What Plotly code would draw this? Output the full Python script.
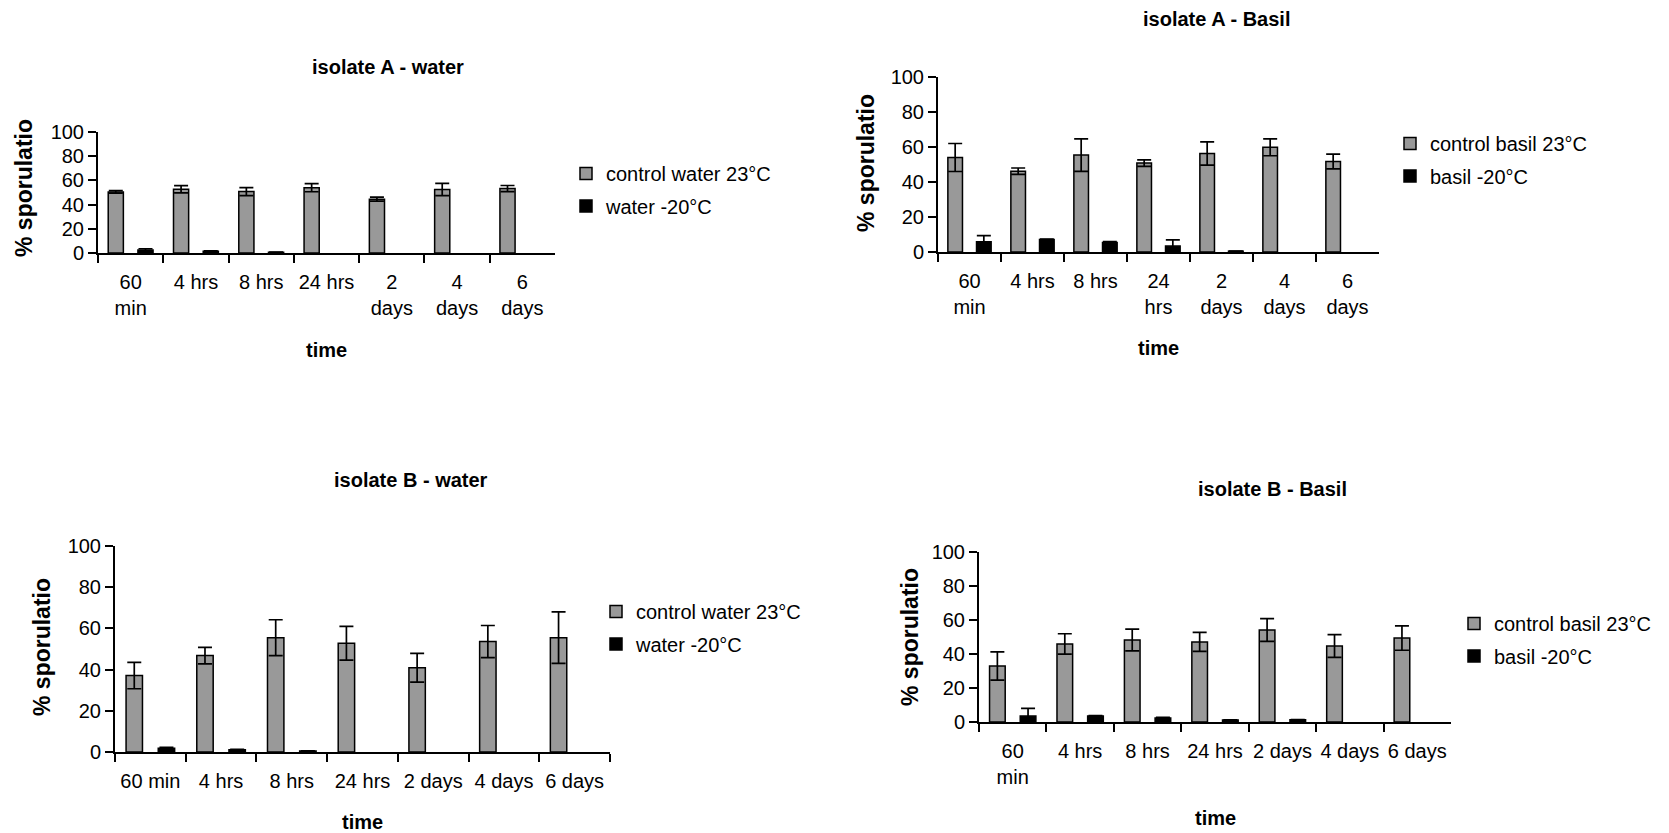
import plotly.graph_objects as go

# ---------------- data ----------------
cats_a_water = ["60<br>min", "4 hrs", "8 hrs", "24 hrs", "2<br>days", "4<br>days", "6<br>days"]
cats_a_basil = ["60<br>min", "4 hrs", "8 hrs", "24<br>hrs", "2<br>days", "4<br>days", "6<br>days"]
cats_b_water = ["60 min", "4 hrs", "8 hrs", "24 hrs", "2 days", "4 days", "6 days"]
cats_b_basil = ["60<br>min", "4 hrs", "8 hrs", "24 hrs", "2 days", "4 days", "6 days"]

a_water_control = [50.5, 52.7, 50.8, 54.0, 44.5, 52.5, 53.3]
a_water_control_err = [1.0, 3.0, 3.3, 3.4, 1.7, 5.0, 2.5]
a_water_frozen = [2.5, 1.4, 0.6, 0, 0, 0, 0]
a_water_frozen_err = [1.0, 0.3, 0.2, 0, 0, 0, 0]

a_basil_control = [54.0, 46.2, 55.4, 50.8, 56.3, 59.8, 51.7]
a_basil_control_err = [8.0, 1.8, 9.3, 1.9, 6.6, 4.8, 4.2]
a_basil_frozen = [5.9, 7.1, 5.5, 3.4, 0.5, 0, 0]
a_basil_frozen_err = [3.5, 0.3, 0.5, 3.5, 0, 0, 0]

b_water_control = [37.1, 46.8, 55.5, 52.8, 40.9, 53.6, 55.5]
b_water_control_err = [6.4, 4.0, 8.7, 8.2, 7.0, 7.8, 12.5]
b_water_frozen = [1.8, 1.1, 0.5, 0, 0, 0, 0]
b_water_frozen_err = [0.5, 0.2, 0, 0, 0, 0, 0]

b_basil_control = [32.9, 45.9, 48.2, 47.1, 54.1, 44.7, 49.4]
b_basil_control_err = [8.3, 6.0, 6.4, 5.6, 6.7, 6.7, 7.2]
b_basil_frozen = [3.5, 3.5, 2.4, 1.2, 1.3, 0, 0]
b_basil_frozen_err = [4.5, 0.3, 0.3, 0.1, 0.1, 0, 0]

y_ticks = [0, 20, 40, 60, 80, 100]

panels = [
    dict(title="isolate A - water", cats=cats_a_water,
         control=a_water_control, control_err=a_water_control_err,
         frozen=a_water_frozen, frozen_err=a_water_frozen_err,
         name_c="control water 23°C", name_f="water -20°C"),
    dict(title="isolate A - Basil", cats=cats_a_basil,
         control=a_basil_control, control_err=a_basil_control_err,
         frozen=a_basil_frozen, frozen_err=a_basil_frozen_err,
         name_c="control basil 23°C", name_f="basil -20°C"),
    dict(title="isolate B - water", cats=cats_b_water,
         control=b_water_control, control_err=b_water_control_err,
         frozen=b_water_frozen, frozen_err=b_water_frozen_err,
         name_c="control water 23°C", name_f="water -20°C"),
    dict(title="isolate B - Basil", cats=cats_b_basil,
         control=b_basil_control, control_err=b_basil_control_err,
         frozen=b_basil_frozen, frozen_err=b_basil_frozen_err,
         name_c="control basil 23°C", name_f="basil -20°C"),
]

# ---------------- geometry (target pixels in the 1669x833 picture) ----------------
FW, FH = 1653, 825      # figure size (page body margin offsets it by 8 px)
OX, OY = 8, 8           # page (body margin) offset of the figure

boxes = [  # x0, x1, ytop, ybottom
    (98, 555, 132, 253),
    (938, 1379, 77, 252),
    (115, 610, 546, 752),
    (979, 1451, 552, 722),
]
title_pos = [(388, 67), (1216, 19), (411, 480), (1272, 489)]
time_pos = [350, 348, 822, 818]
ytitle_pos = [(24, 188), (866, 163), (42, 647), (910, 637)]
legend_pos = [(566, 190), (1390, 160), (596, 628), (1454, 640)]

FONT = "Liberation Sans, Arial, sans-serif"
GREY = "#999999"


def px(x):
    return (x - OX) / FW


def py(y):
    return 1 - (y - OY) / FH


def nz(vals):
    return [v if v > 0 else None for v in vals]


fig = go.Figure()
annotations = []
layout = dict(
    width=FW, height=FH,
    margin=dict(l=0, r=0, t=0, b=0, pad=0),
    paper_bgcolor="white", plot_bgcolor="white",
    font=dict(family=FONT, size=20, color="black"),
    barmode="group", bargap=0.09, bargroupgap=0.49,
)

for i, p in enumerate(panels):
    n = "" if i == 0 else str(i + 1)
    xa, ya = "x" + n, "y" + n
    leg = "legend" + n
    x0, x1, yt, yb = boxes[i]
    err_style = dict(type="data", color="black", thickness=1.7, width=7, visible=True)
    fig.add_trace(go.Bar(
        x=p["cats"], y=nz(p["control"]), name=p["name_c"], xaxis=xa, yaxis=ya,
        marker=dict(color=GREY, line=dict(color="black", width=1.5)),
        error_y=dict(array=p["control_err"], **err_style),
        legend=leg, legendgroup=f"c{i}",
    ))
    fig.add_trace(go.Bar(
        x=p["cats"], y=nz(p["frozen"]), name=p["name_f"], xaxis=xa, yaxis=ya,
        marker=dict(color="black", line=dict(color="black", width=1.5)),
        error_y=dict(array=p["frozen_err"], **err_style),
        legend=leg, legendgroup=f"f{i}",
    ))
    layout["xaxis" + n] = dict(
        domain=[px(x0), px(x1)], anchor=ya, type="category",
        categoryorder="array", categoryarray=p["cats"], automargin=False,
        showline=True, linecolor="black", linewidth=2,
        ticks="outside", tickson="boundaries", ticklen=8, tickwidth=2, tickcolor="black",
        tickangle=0, ticklabelstandoff=10, showgrid=False, zeroline=False,
        tickfont=dict(family=FONT, size=20, color="black"), fixedrange=True,
    )
    layout["yaxis" + n] = dict(
        domain=[py(yb), py(yt)], anchor=xa, range=[0, 100], automargin=False,
        tickvals=y_ticks, ticktext=[str(v) for v in y_ticks],
        showline=True, linecolor="black", linewidth=2,
        ticks="outside", ticklen=8, tickwidth=2, tickcolor="black",
        showgrid=False, zeroline=False,
        tickfont=dict(family=FONT, size=20, color="black"), fixedrange=True,
    )
    lx, lyc = legend_pos[i]
    layout[leg] = dict(
        x=px(lx), y=py(lyc), xanchor="left", yanchor="middle",
        xref="paper", yref="paper", bgcolor="rgba(0,0,0,0)",
        font=dict(family=FONT, size=20, color="black"),
        tracegroupgap=3.5, traceorder="grouped", itemclick=False, itemdoubleclick=False,
    )
    tx, ty = title_pos[i]
    annotations.append(dict(
        text="<b>" + p["title"] + "</b>", x=px(tx), y=py(ty), xref="paper", yref="paper",
        showarrow=False, xanchor="center", yanchor="middle",
        font=dict(family=FONT, size=20, color="black"),
    ))
    annotations.append(dict(
        text="<b>time</b>", x=px((x0 + x1) / 2), y=py(time_pos[i]), xref="paper", yref="paper",
        showarrow=False, xanchor="center", yanchor="middle",
        font=dict(family=FONT, size=20, color="black"),
    ))
    yx, yy = ytitle_pos[i]
    annotations.append(dict(
        text="<b>% sporulatio</b>", x=px(yx), y=py(yy), xref="paper", yref="paper",
        showarrow=False, xanchor="center", yanchor="middle", textangle=-90,
        font=dict(family=FONT, size=23, color="black"),
    ))

layout["annotations"] = annotations
fig.update_layout(**layout)
fig.write_html("out.html")
